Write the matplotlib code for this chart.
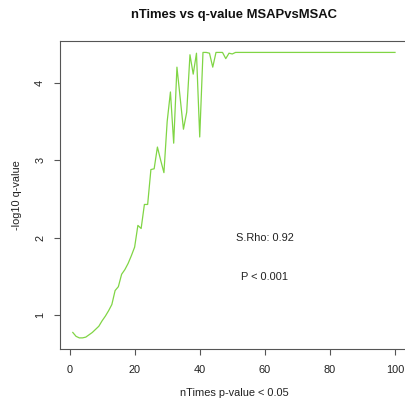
import matplotlib
matplotlib.use("Agg")
import matplotlib.pyplot as plt

n_times = list(range(1, 101))
q_values = [0.78, 0.73, 0.71, 0.71, 0.72, 0.75, 0.78, 0.82, 0.86, 0.93,
            0.99, 1.06, 1.14, 1.32, 1.37, 1.53, 1.59, 1.67, 1.77, 1.88,
            2.16, 2.12, 2.43, 2.43, 2.88, 2.89, 3.17, 3.00, 2.84, 3.50,
            3.88, 3.22, 4.20, 3.80, 3.40, 3.62, 4.36, 4.11, 4.38, 3.30,
            4.39, 4.39, 4.38, 4.20, 4.39, 4.39, 4.39, 4.31, 4.38, 4.37] + [4.39] * 50
x_ticks = [0, 20, 40, 60, 80, 100]
y_ticks = [1, 2, 3, 4]
title = "nTimes vs q-value MSAPvsMSAC"
xlabel = "nTimes p-value < 0.05"
ylabel = "-log10 q-value"
rho_text = "S.Rho: 0.92"
p_text = "P < 0.001"

plt.rcParams['font.family'] = ['Liberation Sans', 'DejaVu Sans']
W, H = 406, 403
fig = plt.figure(figsize=(W / 100, H / 100), dpi=100)
left, right, top, bottom = 59.9, 407.9, 41.0, 349.3
ax = fig.add_axes([left / W, 1 - bottom / H, (right - left) / W, (bottom - top) / H])

ax.plot(n_times, q_values, color='#80D545', lw=0.9)

xr = max(n_times) - min(n_times)
ax.set_xlim(min(n_times) - 0.04 * xr, max(n_times) + 0.04 * xr)
yr = max(q_values) - min(q_values)
ax.set_ylim(min(q_values) - 0.04 * yr, max(q_values) + 0.04 * yr)

fs = 7.9
ax.set_xticks(x_ticks)
ax.set_yticks(y_ticks)
ax.set_xticklabels([str(t) for t in x_ticks])
ax.set_yticklabels([str(t) for t in y_ticks], rotation=90, va='center')
for s in ax.spines.values():
    s.set_color('#555555')
    s.set_linewidth(0.8)
ax.tick_params(axis='both', length=4.6, width=0.8, color='#555555',
               labelsize=fs, labelcolor='#222222')
ax.tick_params(axis='x', pad=6.5)
ax.tick_params(axis='y', pad=6.0)

ax.text(60, 2.0, rho_text, ha='center', va='center', fontsize=fs, color='#222222')
ax.text(60, 1.5, p_text, ha='center', va='center', fontsize=fs, color='#222222')

fig.text(234 / W, 1 - 15 / H, title, ha='center', va='center',
         fontsize=9.4, fontweight='bold', color='#111111')
fig.text(234 / W, 1 - 393.5 / H, xlabel, ha='center', va='center',
         fontsize=fs, color='#222222')
fig.text(17 / W, 1 - 195 / H, ylabel, ha='center', va='center', rotation=90,
         fontsize=fs, color='#222222')

fig.savefig("out.png", dpi=100)
